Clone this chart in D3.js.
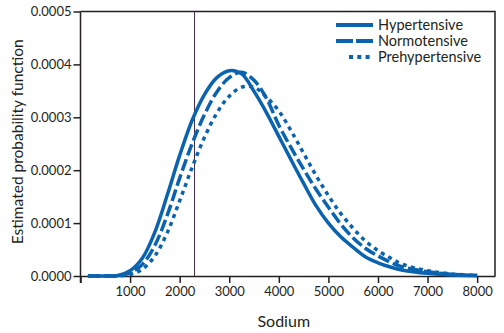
<!DOCTYPE html>
<html>
<head>
<meta charset="utf-8">
<script src="https://cdn.jsdelivr.net/npm/d3@7"></script>
<style>
  body { margin: 0; background: #fff; }
  svg text { font-family: Lato, "Noto Sans", sans-serif; fill: #231f20; }
  .axis path, .axis line { stroke: #231f20; stroke-width: 1.5; }
</style>
</head>
<body>
<div class="chart"></div>
<script>
// sodium values (mg) where the curves were read
var SODIUM = [150, 500, 750, 1000, 1250, 1500, 1750, 2000, 2250, 2500, 2750, 3000, 3250,
  3500, 3750, 4000, 4250, 4500, 4750, 5000, 5250, 5500, 5750, 6000, 6250, 6500, 7000, 7500, 8000];

// estimated density, in units of 1e-4
var HYPERTENSIVE = [0, 0, 0.01, 0.10, 0.34, 0.83, 1.53, 2.28, 2.94, 3.43, 3.75, 3.88, 3.82,
  3.49, 3.09, 2.64, 2.19, 1.75, 1.33, 1.00, 0.74, 0.54, 0.36, 0.25, 0.17, 0.11, 0.05, 0.02, 0.01];
var NORMOTENSIVE = [0, 0, 0.005, 0.06, 0.22, 0.58, 1.15, 1.85, 2.50, 3.05, 3.48, 3.75, 3.85,
  3.70, 3.36, 2.85, 2.42, 2.02, 1.64, 1.30, 0.98, 0.72, 0.52, 0.38, 0.26, 0.17, 0.08, 0.03, 0.01];
var PREHYPERTENSIVE = [0, 0, 0.003, 0.03, 0.13, 0.38, 0.82, 1.42, 2.05, 2.62, 3.08, 3.40, 3.57,
  3.57, 3.38, 3.12, 2.74, 2.32, 1.90, 1.52, 1.18, 0.90, 0.66, 0.48, 0.34, 0.22, 0.10, 0.04, 0.01];

var SERIES_NAMES = ["Hypertensive", "Normotensive", "Prehypertensive"];
var X_TICKS = [0, 1000, 2000, 3000, 4000, 5000, 6000, 7000, 8000];
var Y_TICKS = [0, 0.0001, 0.0002, 0.0003, 0.0004, 0.0005];
var REFERENCE_LINE = 2300;

var W = 504, H = 333;
var margin = {top: 11.5, right: 9, bottom: 57, left: 80.5};
var width = W - margin.left - margin.right,
    height = H - margin.top - margin.bottom;

var BLUE = "#0b62ae";
var DASHES = [null, "12,4", "4,4.3"];

var svg = d3.select(".chart").append("svg")
    .attr("width", W)
    .attr("height", H)
  .append("g")
    .attr("transform", "translate(" + margin.left + "," + margin.top + ")");

var x = d3.scaleLinear().domain([0, 8360]).range([0, width]);
var y = d3.scaleLinear().domain([0, 0.0005]).range([height, 0]);

// frame: top + right
svg.append("path")
    .attr("d", "M0,0H" + width + "V" + height)
    .attr("fill", "none")
    .attr("stroke", "#231f20")
    .attr("stroke-width", 1.5);

// reference line
svg.append("line")
    .attr("x1", x(REFERENCE_LINE)).attr("x2", x(REFERENCE_LINE))
    .attr("y1", 0).attr("y2", height)
    .attr("stroke", "#3d2b45")
    .attr("stroke-width", 1);

svg.append("g")
    .attr("class", "axis x")
    .attr("transform", "translate(0," + height + ")")
    .call(d3.axisBottom(x).tickValues(X_TICKS).tickSize(7).tickSizeOuter(0).tickPadding(4)
      .tickFormat(function (d) { return d === 0 ? "" : d; }))
    .selectAll("text").style("font-size", "13px");

svg.append("g")
    .attr("class", "axis y")
    .call(d3.axisLeft(y).tickValues(Y_TICKS).tickSize(7).tickSizeOuter(0).tickPadding(2)
      .tickFormat(d3.format(".4f")))
    .selectAll("text").style("font-size", "13px");

svg.select(".axis.y path").attr("d", "M0,0V" + (height + 7));

svg.append("text")
    .attr("x", width / 2 - 4)
    .attr("y", height + 51)
    .attr("text-anchor", "middle")
    .style("font-size", "16px")
    .text("Sodium");

svg.append("text")
    .attr("transform", "rotate(-90)")
    .attr("x", -height / 2 + 2)
    .attr("y", -58)
    .attr("text-anchor", "middle")
    .style("font-size", "15.5px")
    .text("Estimated probability function");

var series = [HYPERTENSIVE, NORMOTENSIVE, PREHYPERTENSIVE].map(function (vals, i) {
  return {
    name: SERIES_NAMES[i],
    dash: DASHES[i],
    values: SODIUM.map(function (s, j) { return {x: s, y: vals[j] * 1e-4}; })
  };
});

var line = d3.line()
    .curve(d3.curveCatmullRom.alpha(0.5))
    .x(function (d) { return x(d.x); })
    .y(function (d) { return y(d.y); });

svg.selectAll(".curve")
    .data(series.slice().reverse())
    .enter().append("path")
    .attr("class", "curve")
    .attr("d", function (d) { return line(d.values); })
    .attr("fill", "none")
    .attr("stroke", BLUE)
    .attr("stroke-width", 3.5)
    .attr("stroke-dasharray", function (d) { return d.dash; });

// legend
var legend = svg.selectAll(".legend")
    .data(series)
    .enter().append("g")
    .attr("class", "legend")
    .attr("transform", function (d, i) { return "translate(" + (336 - margin.left) + "," + (25 - margin.top + i * 16) + ")"; });

legend.append("line")
    .attr("x1", function (d, i) { return i === 2 ? 13 : 0; })
    .attr("x2", 37)
    .attr("stroke", BLUE)
    .attr("stroke-width", 4)
    .attr("stroke-dasharray", function (d, i) { return i === 1 ? "17,3" : d.dash; });

legend.append("text")
    .attr("x", 42)
    .attr("dy", "0.35em")
    .style("font-size", "14.5px")
    .text(function (d) { return d.name; });
</script>
</body>
</html>
